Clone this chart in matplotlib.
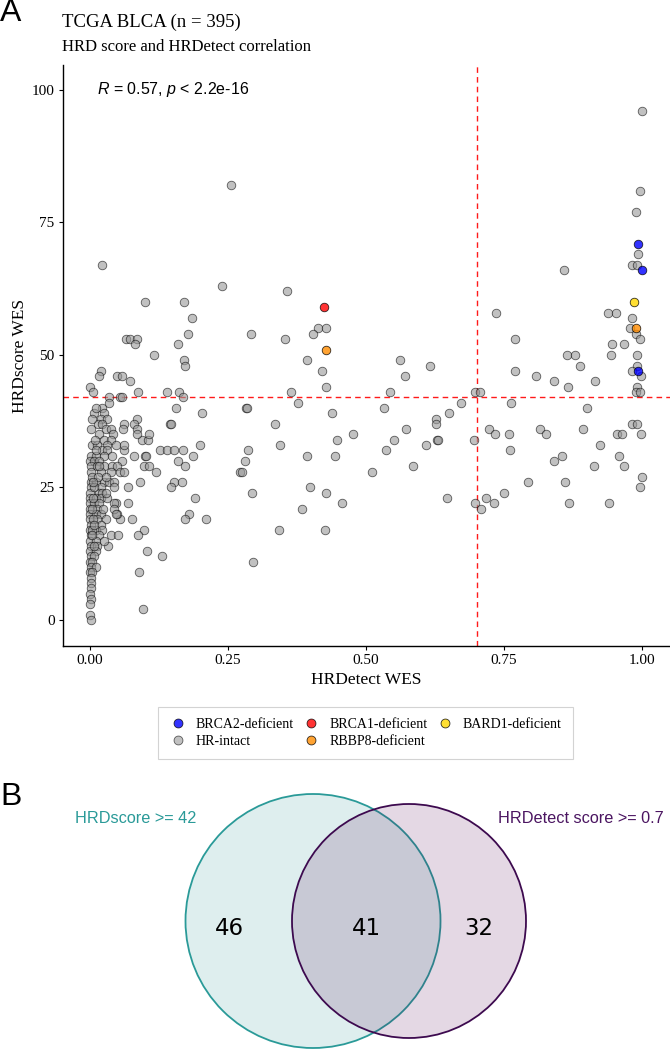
import numpy as np
import matplotlib
matplotlib.use("Agg")
import matplotlib.pyplot as plt
from matplotlib.patches import Ellipse
from matplotlib.lines import Line2D

# ============================================================
# Data
# ============================================================
hr_intact = [
    # left / middle part
    (0.023, 67), (0.256, 82), (0.10, 60), (0.17, 60), (0.24, 63), (0.357, 62), (0.186, 57),
    (0.413, 55), (0.427, 55), (0.405, 54), (0.066, 53), (0.073, 53), (0.085, 53), (0.082, 52),
    (0.178, 54), (0.16, 52), (0.292, 54), (0.354, 53), (0.116, 50), (0.17, 49), (0.172, 48),
    (0.394, 49), (0.421, 47), (0.427, 44), (0.021, 47), (0.018, 46), (0.05, 46), (0.058, 46),
    (0.074, 45), (0.001, 44), (0.007, 43), (0.087, 43), (0.141, 43), (0.162, 43), (0.169, 42),
    (0.035, 42), (0.035, 41), (0.055, 42), (0.058, 42), (0.365, 43), (0.377, 41), (0.157, 40),
    (0.283, 40), (0.285, 40), (0.204, 39), (0.438, 39), (0.145, 37), (0.147, 37), (0.335, 37),
    (0.448, 34), (0.476, 35), (0.344, 33), (0.393, 31), (0.444, 31), (0.199, 33), (0.187, 31),
    (0.128, 32), (0.14, 32), (0.153, 32), (0.169, 32), (0.286, 32), (0.282, 30), (0.16, 30),
    (0.173, 29), (0.272, 28), (0.275, 28), (0.101, 31), (0.103, 31), (0.08, 31), (0.062, 32),
    (0.095, 34), (0.105, 34), (0.107, 35), (0.086, 38), (0.08, 37), (0.086, 36), (0.086, 35),
    (0.062, 37), (0.061, 36), (0.098, 29), (0.107, 29), (0.121, 28), (0.092, 26), (0.152, 26),
    (0.168, 26), (0.148, 25), (0.069, 25), (0.191, 23), (0.293, 24), (0.398, 25), (0.428, 24),
    (0.457, 22), (0.385, 21), (0.069, 22), (0.18, 20), (0.172, 19), (0.211, 19), (0.077, 19),
    (0.055, 19), (0.047, 22), (0.05, 20), (0.342, 17), (0.426, 17), (0.099, 17), (0.087, 16),
    (0.038, 16), (0.051, 16), (0.033, 14), (0.104, 13), (0.131, 12), (0.295, 11), (0.09, 9),
    (0.096, 2),
    # dense column near zero
    (0.023, 40), (0.026, 39), (0.008, 39), (0.02, 38), (0.032, 38), (0.015, 37), (0.023, 37),
    (0.003, 36), (0.029, 36), (0.038, 36), (0.017, 35), (0.043, 35), (0.026, 34), (0.038, 34),
    (0.005, 33), (0.014, 33), (0.032, 33), (0.047, 33), (0.062, 33), (0.023, 32), (0.031, 32),
    (0.002, 31), (0.011, 31), (0.026, 31), (0.041, 31), (0.0, 30), (0.008, 30), (0.017, 30),
    (0.059, 30), (0.002, 29), (0.014, 29), (0.026, 29), (0.041, 29), (0.05, 29), (0.002, 28),
    (0.02, 28), (0.038, 28), (0.056, 28), (0.062, 28), (0.002, 26), (0.011, 26), (0.026, 26),
    (0.035, 26), (0.044, 26), (0.002, 25), (0.02, 25), (0.044, 25), (0.0, 24), (0.017, 24),
    (0.023, 24), (0.0, 23), (0.011, 23), (0.02, 23), (0.032, 23), (0.044, 22), (0.0, 22),
    (0.008, 22), (0.017, 22), (0.0, 21), (0.014, 21), (0.044, 21), (0.047, 20), (0.0, 20),
    (0.011, 20), (0.02, 20), (0.0, 19), (0.014, 19), (0.029, 19), (0.002, 18), (0.02, 18),
    (0.0, 17), (0.011, 17), (0.023, 17), (0.002, 16), (0.017, 16), (0.0, 15), (0.011, 15),
    (0.026, 15), (0.002, 14), (0.014, 14), (0.0, 13), (0.011, 13), (0.002, 12), (0.008, 12),
    (0.0, 11), (0.005, 11), (0.002, 10), (0.011, 10), (0.0, 9), (0.005, 9), (0.002, 8),
    (0.003, 7), (0.002, 6), (0.001, 5), (0.002, 4), (0.001, 3), (0.001, 1), (0.002, 0),
    (0.005, 27), (0.015, 27), (0.03, 27), (0.008, 25), (0.03, 24), (0.005, 21), (0.025, 21),
    (0.007, 19), (0.005, 17), (0.008, 14), (0.004, 16), (0.006, 23), (0.012, 32), (0.018, 29),
    (0.006, 26), (0.01, 34), (0.004, 38), (0.012, 40), (0.008, 18),
    # right part
    (1.0, 96), (0.995, 81), (0.989, 77), (0.993, 69), (0.982, 67), (0.991, 67), (0.858, 66),
    (0.735, 58), (0.937, 58), (0.952, 58), (0.982, 57), (0.977, 55), (0.989, 54), (0.996, 53),
    (0.769, 53), (0.945, 52), (0.967, 52), (0.562, 49), (0.863, 50), (0.878, 50), (0.943, 50),
    (0.99, 50), (0.615, 48), (0.887, 48), (0.991, 48), (0.982, 47), (0.998, 46), (0.571, 46),
    (0.77, 47), (0.807, 46), (0.841, 45), (0.866, 44), (0.914, 45), (0.991, 44), (0.988, 43),
    (0.996, 43), (0.543, 43), (0.698, 43), (0.706, 43), (0.532, 40), (0.672, 41), (0.763, 41),
    (0.899, 40), (0.651, 39), (0.626, 38), (0.627, 37), (0.573, 36), (0.551, 34), (0.629, 34),
    (0.631, 34), (0.609, 33), (0.537, 32), (0.696, 34), (0.723, 36), (0.734, 35), (0.759, 35),
    (0.761, 32), (0.815, 36), (0.826, 35), (0.893, 36), (0.923, 33), (0.954, 35), (0.964, 35),
    (0.982, 37), (0.991, 37), (0.997, 35), (0.855, 31), (0.841, 30), (0.957, 31), (0.913, 29),
    (0.966, 29), (0.999, 27), (0.996, 25), (0.585, 29), (0.511, 28), (0.793, 26), (0.86, 26),
    (0.749, 24), (0.717, 23), (0.732, 22), (0.698, 22), (0.708, 21), (0.646, 23), (0.867, 22),
    (0.94, 22),
]
brca2 = [(0.992, 71), (0.999, 66), (0.992, 47)]
brca1 = [(0.425, 59)]
bard1 = [(0.984, 60)]
rbbp8 = [(0.427, 51), (0.989, 55)]

groups = ["BRCA2-deficient", "HR-intact", "BRCA1-deficient", "RBBP8-deficient", "BARD1-deficient"]
group_points = {
    "HR-intact": hr_intact,
    "BRCA2-deficient": brca2,
    "BRCA1-deficient": brca1,
    "RBBP8-deficient": rbbp8,
    "BARD1-deficient": bard1,
}
group_colors = {
    "HR-intact": "#999999",
    "BRCA2-deficient": "#0000FF",
    "BRCA1-deficient": "#FF0000",
    "RBBP8-deficient": "#FF8C00",
    "BARD1-deficient": "#FFD700",
}

HRD_CUT = 42
HRDETECT_CUT = 0.7
R_TEXT = r"$R$ = 0.57, $p$ < 2.2e-16"

venn_labels = ["HRDscore >= 42", "HRDetect score >= 0.7"]
venn_counts = [46, 41, 32]

# ============================================================
# Figure
# ============================================================
plt.rcParams["mathtext.fontset"] = "custom"
plt.rcParams["mathtext.it"] = "Liberation Sans:italic"
plt.rcParams["mathtext.rm"] = "Liberation Sans"

SERIF = "Liberation Serif"
W, H = 670, 1050
fig = plt.figure(figsize=(6.7, 10.5), dpi=100)

ax = fig.add_axes([63 / W, 1 - 646 / H, 607 / W, 581 / H])
for name in ["HR-intact", "BRCA2-deficient", "BRCA1-deficient", "RBBP8-deficient", "BARD1-deficient"]:
    pts = np.array(group_points[name], dtype=float)
    alpha = 0.6 if name == "HR-intact" else 0.8
    ax.scatter(pts[:, 0], pts[:, 1], s=38, facecolor=group_colors[name],
               edgecolor="black", linewidth=0.6, alpha=alpha, zorder=3)

ax.axhline(HRD_CUT, color="#FF1A1A", linestyle=(0, (4, 3)), linewidth=1.0, zorder=2)
ax.axvline(HRDETECT_CUT, color="#FF1A1A", linestyle=(0, (4, 3)), linewidth=1.0, zorder=2)

ax.set_xlim(-0.048, 1.050)
ax.set_ylim(-4.9, 104.7)
ax.set_xticks([0, 0.25, 0.5, 0.75, 1.0])
ax.set_xticklabels(["0.00", "0.25", "0.50", "0.75", "1.00"])
ax.set_yticks([0, 25, 50, 75, 100])
for side in ["top", "right"]:
    ax.spines[side].set_visible(False)
for side in ["left", "bottom"]:
    ax.spines[side].set_linewidth(1.0)
ax.tick_params(direction="out", length=3, width=0.8, pad=3, labelsize=11)
for lab in ax.get_xticklabels() + ax.get_yticklabels():
    lab.set_family(SERIF)

ax.set_xlabel("HRDetect WES", family=SERIF, fontsize=12.5)
ax.xaxis.label.set_va("center")
ax.xaxis.set_label_coords(0.5, -0.0585)
ax.set_ylabel("HRDscore WES", family=SERIF, fontsize=12.5)
ax.yaxis.label.set_va("center")
ax.yaxis.set_label_coords(-0.071, 0.5)

ax.text(0.013, 100, R_TEXT, family="Liberation Sans", fontsize=11.5, va="center", ha="left")

fig.text(0 / W, 1 - 13 / H, "A", family="Liberation Sans", fontsize=23, va="center", ha="left")
fig.text(62 / W, 1 - 22 / H, "TCGA BLCA (n = 395)", family=SERIF, fontsize=13.5, va="center")
fig.text(62 / W, 1 - 47 / H, "HRD score and HRDetect correlation", family=SERIF, fontsize=12, va="center")

handles = [Line2D([], [], marker="o", linestyle="", markersize=6.4,
                  markerfacecolor=group_colors[g], markeredgecolor="black",
                  markeredgewidth=0.6, alpha=0.6 if g == "HR-intact" else 0.8)
           for g in groups]
leg = fig.legend(handles, groups, loc="upper center", bbox_to_anchor=(365.5 / W, 1 - 707 / H),
                 ncol=3, frameon=True, fancybox=False, edgecolor="#C8C8C8",
                 prop={"family": SERIF, "size": 10}, handlelength=1.2, handletextpad=0.7,
                 columnspacing=0.65, labelspacing=0.25, borderpad=0.8, borderaxespad=0)
leg.get_frame().set_linewidth(0.8)

# ============================================================
# Venn panel (pixel coordinates)
# ============================================================
ax2 = fig.add_axes([0, 0, 1, 300 / H])
ax2.set_xlim(0, W)
ax2.set_ylim(H, H - 300)
ax2.axis("off")

ax2.add_patch(Ellipse((313, 921), 255, 254, facecolor=(0, 128 / 255, 128 / 255, 0.13),
                      edgecolor="#2A9A98", linewidth=1.3))
ax2.add_patch(Ellipse((409, 921), 234, 234, facecolor=(80 / 255, 0, 80 / 255, 0.153),
                      edgecolor="#3D0A4F", linewidth=1.3))
ax2.text(136, 819, venn_labels[0], color="#2A9A98", family="Liberation Sans",
         fontsize=11.7, ha="center", va="center")
ax2.text(581, 819, venn_labels[1], color="#4B1561", family="Liberation Sans",
         fontsize=11.7, ha="center", va="center")
for xpos, count in zip([229, 366, 479], venn_counts):
    ax2.text(xpos, 929, str(count), family="DejaVu Sans", fontsize=16.5, ha="center", va="center")

fig.text(0 / W, 1 - 797 / H, "B", family="Liberation Sans", fontsize=23, va="center", ha="left")

fig.savefig("out.png", dpi=100)
